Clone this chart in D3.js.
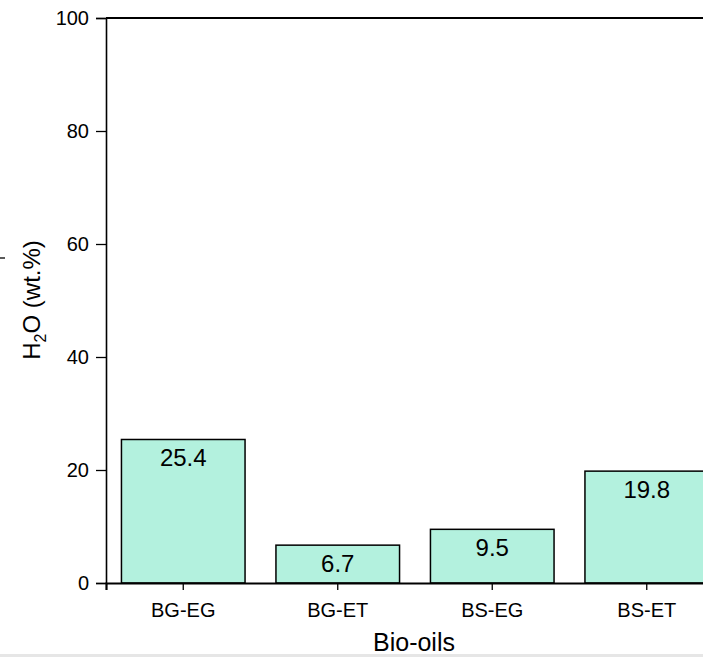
<!DOCTYPE html>
<html>
<head>
<meta charset="utf-8">
<script src="https://cdn.jsdelivr.net/npm/d3@7"></script>
<style>
  body { margin: 0; background: #fff; overflow: hidden; }
  text { font-family: Arial, "Liberation Sans", sans-serif; fill: #000; }
</style>
</head>
<body>
<svg></svg>
<script>
// Chart data
const categories = ['BG-EG', 'BG-ET', 'BS-EG', 'BS-ET'];
const waterContent = [25.4, 6.7, 9.5, 19.8];
const yTicks = [0, 20, 40, 60, 80, 100];

const width = 703, height = 657;
const svg = d3.select('svg')
    .attr('width', width)
    .attr('height', height);

// Plot area (right side runs past the window, like the reference crop)
const plotLeft = 106, plotRight = 724, plotTop = 18, plotBottom = 583;

const x = d3.scaleBand()
    .domain(categories)
    .range([plotLeft, plotRight])
    .paddingInner(0.2)
    .paddingOuter(0.1);

const y = d3.scaleLinear()
    .domain([0, 100])
    .range([plotBottom, plotTop]);

// Bars
svg.append('g').selectAll('rect')
    .data(categories)
    .enter().append('rect')
    .attr('x', d => x(d))
    .attr('y', (d, i) => y(waterContent[i]))
    .attr('width', x.bandwidth())
    .attr('height', (d, i) => plotBottom - y(waterContent[i]))
    .attr('fill', '#b3f1de')
    .attr('stroke', '#000')
    .attr('stroke-width', 1.5);

// Value labels inside the bars
svg.append('g').selectAll('text')
    .data(categories)
    .enter().append('text')
    .attr('x', d => x(d) + x.bandwidth() / 2)
    .attr('y', (d, i) => y(waterContent[i]) + 27)
    .attr('text-anchor', 'middle')
    .style('font-size', '24px')
    .text((d, i) => waterContent[i]);

// Y axis
const yAxis = svg.append('g')
    .attr('transform', `translate(${plotLeft},0)`)
    .call(d3.axisLeft(y).tickValues(yTicks).tickSize(10).tickPadding(7));
yAxis.selectAll('text').style('font-size', '20px').attr('font-family', null);
yAxis.select('.domain').attr('stroke-width', 1.6);
yAxis.selectAll('.tick line').attr('stroke-width', 1.3);

// X axis
const xAxis = svg.append('g')
    .attr('transform', `translate(0,${plotBottom})`)
    .call(d3.axisBottom(x).tickSizeOuter(0).tickSize(7).tickPadding(13));
xAxis.selectAll('text').style('font-size', '20px').attr('font-family', null);
xAxis.select('.domain').attr('stroke-width', 2.2);
xAxis.selectAll('.tick line').attr('stroke-width', 1.3);

// Top frame line
svg.append('line')
    .attr('x1', plotLeft).attr('x2', plotRight)
    .attr('y1', plotTop).attr('y2', plotTop)
    .attr('stroke', '#000')
    .attr('stroke-width', 2);

// Axis titles
svg.append('text')
    .attr('x', 414)
    .attr('y', 651)
    .attr('text-anchor', 'middle')
    .style('font-size', '25px')
    .text('Bio-oils');

const yTitle = svg.append('text')
    .attr('transform', 'translate(40,300) rotate(-90)')
    .attr('text-anchor', 'middle')
    .style('font-size', '24px');
yTitle.append('tspan').text('H');
yTitle.append('tspan').attr('dy', 6).style('font-size', '16px').text('2');
yTitle.append('tspan').attr('dy', -6).text('O (wt.%)');

// Stray mark at the left edge of the reference
svg.append('line')
    .attr('x1', 0).attr('x2', 5)
    .attr('y1', 258).attr('y2', 258)
    .attr('stroke', '#000')
    .attr('stroke-width', 1.3);

// Light grey strip at the bottom
svg.append('rect')
    .attr('x', 0).attr('y', 654)
    .attr('width', width).attr('height', 3)
    .attr('fill', '#e6e6e6');
</script>
</body>
</html>
